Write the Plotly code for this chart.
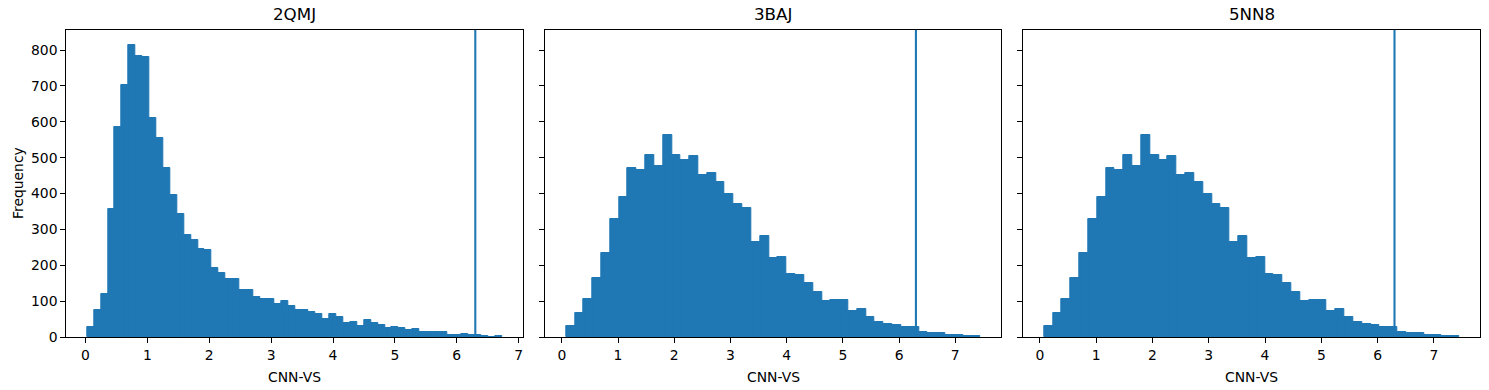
import numpy as np
import plotly.graph_objects as go

# ---------------- data ----------------
titles = ["2QMJ", "3BAJ", "5NN8"]

# 2QMJ histogram: 60 equal bins between these edges
counts_2qmj = [28, 75, 120, 357, 586, 703, 815, 784, 781, 611,
               555, 472, 396, 343, 285, 271, 246, 243, 193, 179,
               162, 162, 131, 131, 112, 106, 106, 92, 100, 87,
               75, 75, 70, 64, 50, 64, 56, 39, 42, 31,
               47, 39, 33, 25, 28, 25, 20, 22, 14, 14,
               14, 14, 6, 6, 9, 5, 6, 3, 0, 3]
range_2qmj = [0.025, 6.74]

# 3BAJ histogram: 47 equal bins between these edges
counts_3baj = [31, 67, 106, 165, 234, 329, 391, 472, 466, 508,
               477, 564, 508, 494, 505, 452, 458, 433, 399, 371,
               360, 265, 282, 220, 223, 176, 173, 151, 126, 100,
               103, 103, 73, 78, 56, 42, 36, 33, 28, 28,
               14, 11, 11, 6, 6, 3, 3]
range_3baj = [0.075, 7.45]

# 5NN8 histogram (same values)
counts_5nn8 = [31, 67, 106, 165, 234, 329, 391, 472, 466, 508,
               477, 564, 508, 494, 505, 452, 458, 433, 399, 371,
               360, 265, 282, 220, 223, 176, 173, 151, 126, 100,
               103, 103, 73, 78, 56, 42, 36, 33, 28, 28,
               14, 11, 11, 6, 6, 3, 3]
range_5nn8 = [0.075, 7.45]

threshold = [6.3, 6.3, 6.3]

x_ticks = [0, 1, 2, 3, 4, 5, 6, 7]
y_ticks = [0, 100, 200, 300, 400, 500, 600, 700, 800]

# ---------------- figure ----------------
BLUE = "#1f77b4"
FONT = "DejaVu Sans"
W, H = 1489, 390
ML, MR, MT, MB = 66, 9, 30, 53
PW = W - ML - MR

panels = [
    (counts_2qmj, range_2qmj, (66.3, 523.3)),
    (counts_3baj, range_3baj, (545.3, 1001.3)),
    (counts_5nn8, range_5nn8, (1023.3, 1480.3)),
]

fig = go.Figure()
ymax = max(max(counts_2qmj), max(counts_3baj), max(counts_5nn8)) * 1.05

layout = dict(
    width=W, height=H,
    margin=dict(l=ML, r=MR, t=MT, b=MB, pad=0),
    paper_bgcolor="white", plot_bgcolor="white",
    showlegend=False, bargap=0, barmode="overlay",
    font=dict(family=FONT, size=13.9, color="black"),
)
annotations = []
shapes = []

for i, (counts, rng, (px0, px1)) in enumerate(panels):
    n = len(counts)
    edges = np.linspace(rng[0], rng[1], n + 1)
    centers = (edges[:-1] + edges[1:]) / 2
    bw = edges[1] - edges[0]
    span = rng[1] - rng[0]
    xr = [rng[0] - 0.05 * span, rng[1] + 0.05 * span]
    sfx = "" if i == 0 else str(i + 1)
    fig.add_trace(go.Bar(
        x=centers, y=counts, width=bw,
        marker=dict(color=BLUE, line=dict(width=1, color=BLUE)),
        xaxis="x" + sfx, yaxis="y" + sfx, hoverinfo="skip",
    ))
    d0 = (px0 - ML) / PW
    d1 = (px1 - ML) / PW
    layout["xaxis" + sfx] = dict(
        domain=[max(0, d0), min(1, d1)], range=xr, anchor="y" + sfx,
        tickmode="array", tickvals=x_ticks, ticks="outside", ticklen=5,
        tickwidth=1.1, tickcolor="black", showline=True, linecolor="black",
        linewidth=1.1, mirror=True, showgrid=False, zeroline=False,
        tickfont=dict(family=FONT, size=13.9, color="black"),
    )
    layout["yaxis" + sfx] = dict(
        domain=[0, 1], range=[0, ymax], anchor="x" + sfx,
        tickmode="array", tickvals=y_ticks, ticks="outside", ticklen=5,
        tickwidth=1.1, tickcolor="black", showline=True, linecolor="black",
        linewidth=1.1, mirror=True, showgrid=False, zeroline=False,
        showticklabels=(i == 0),
        tickfont=dict(family=FONT, size=13.9, color="black"),
    )
    cx = (max(0, d0) + min(1, d1)) / 2
    annotations.append(dict(
        text=titles[i], x=cx, y=1, xref="paper", yref="paper",
        xanchor="center", yanchor="bottom", yshift=4, showarrow=False,
        font=dict(family=FONT, size=16.7, color="black"),
    ))
    annotations.append(dict(
        text="CNN-VS", x=cx, y=0, xref="paper", yref="paper",
        xanchor="center", yanchor="top", yshift=-30, showarrow=False,
        font=dict(family=FONT, size=13.9, color="black"),
    ))
    shapes.append(dict(
        type="line", xref="x" + sfx, yref="y" + sfx + " domain",
        x0=threshold[i], x1=threshold[i], y0=0, y1=1,
        line=dict(color=BLUE, width=2.1), layer="above",
    ))

annotations.append(dict(
    text="Frequency", x=0, y=0.5, xref="paper", yref="paper",
    xanchor="center", yanchor="middle", xshift=17.5 - ML, textangle=-90,
    showarrow=False, font=dict(family=FONT, size=13.9, color="black"),
))

layout["annotations"] = annotations
layout["shapes"] = shapes
fig.update_layout(**layout)
fig.write_html(
    "out.html",
    config={"displayModeBar": False},
    post_script="document.body.style.margin='0';document.body.style.overflow='hidden';",
)
